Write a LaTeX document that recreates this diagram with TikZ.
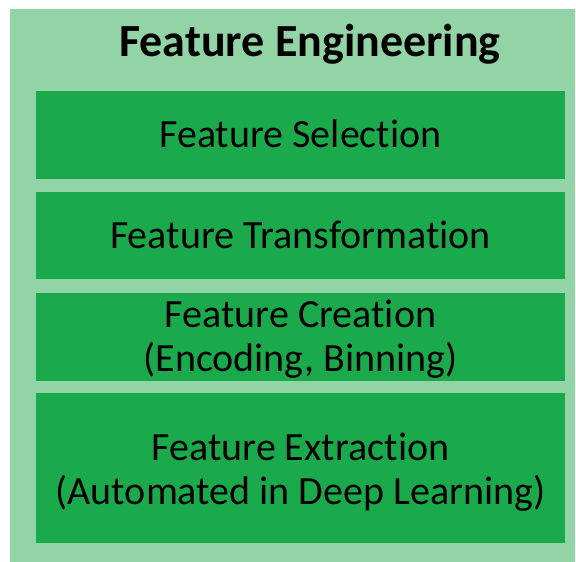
\documentclass[tikz,border=0pt]{standalone}
\usepackage{fontspec}
\setmainfont{Carlito}[Ligatures={NoCommon,NoContextual}]
\definecolor{panelgreen}{RGB}{146,212,166}
\definecolor{layergreen}{RGB}{26,170,76}
\tikzset{
  layertext/.style={align=center, inner sep=0pt, font=\fontsize{40}{44}\selectfont},
  titletext/.style={inner sep=0pt, font=\fontsize{46}{50}\selectfont\bfseries}
}

\begin{document}
\begin{tikzpicture}[x=1pt,y=-1pt]
		\useasboundingbox (0,0) rectangle (576,562);
		\fill[panelgreen] (10,9) rectangle (575,562);
		\fill[layergreen] (36,91) rectangle (565,179);
		\fill[layergreen] (36,192) rectangle (565,279);
		\fill[layergreen] (36,293) rectangle (565,381);
		\fill[layergreen] (36,393) rectangle (565,543);
		\node[titletext] (title) at (310,44) {Feature Engineering};
		\node[layertext] (selection) at (300.5,134) {Feature Selection};
		\node[layertext] (transform) at (300.5,235) {Feature Transformation};
		\node[layertext] (creation) at (300.5,339) {Feature Creation\\(Encoding, Binning)};
		\node[layertext] (extraction) at (300.5,472.5) {Feature Extraction\\(Automated in Deep Learning)};
	\end{tikzpicture}
\end{document}
